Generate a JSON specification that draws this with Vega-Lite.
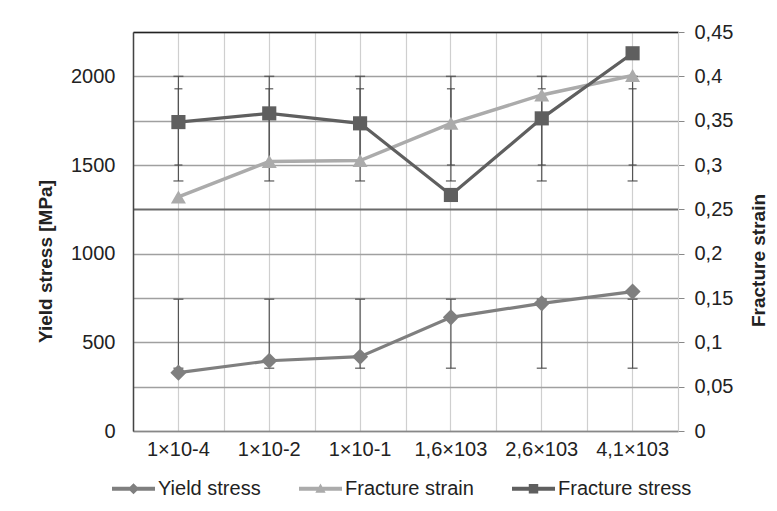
{
  "$schema": "https://vega.github.io/schema/vega-lite/v6.json",
  "autosize": {"type": "none"},
  "width": 545,
  "height": 399,
  "padding": {"left": 133, "top": 32, "right": 99, "bottom": 80},
  "background": "white",
  "config": {
    "font": "Liberation Sans",
    "view": {"stroke": "#cccccc", "strokeWidth": 1},
    "axis": {"labelFont": "Liberation Sans", "titleFont": "Liberation Sans", "labelColor": "#222222", "titleColor": "#222222"}
  },
  "data": {
    "values": [
      {"rate": "1×10-4", "series": "Yield stress", "value": 329, "lo": 354, "hi": 743},
      {"rate": "1×10-2", "series": "Yield stress", "value": 396, "lo": 354, "hi": 743},
      {"rate": "1×10-1", "series": "Yield stress", "value": 419, "lo": 354, "hi": 743},
      {"rate": "1,6×103", "series": "Yield stress", "value": 641, "lo": 354, "hi": 743},
      {"rate": "2,6×103", "series": "Yield stress", "value": 720, "lo": 354, "hi": 743},
      {"rate": "4,1×103", "series": "Yield stress", "value": 786, "lo": 354, "hi": 743},
      {"rate": "1×10-4", "series": "Fracture strain", "value": 0.264, "lo": 0.300, "hi": 0.386},
      {"rate": "1×10-2", "series": "Fracture strain", "value": 0.304, "lo": 0.300, "hi": 0.386},
      {"rate": "1×10-1", "series": "Fracture strain", "value": 0.305, "lo": 0.300, "hi": 0.386},
      {"rate": "1,6×103", "series": "Fracture strain", "value": 0.347, "lo": 0.300, "hi": 0.386},
      {"rate": "2,6×103", "series": "Fracture strain", "value": 0.379, "lo": 0.300, "hi": 0.386},
      {"rate": "4,1×103", "series": "Fracture strain", "value": 0.401, "lo": 0.300, "hi": 0.386},
      {"rate": "1×10-4", "series": "Fracture stress", "value": 1742, "lo": 1410, "hi": 2000},
      {"rate": "1×10-2", "series": "Fracture stress", "value": 1791, "lo": 1410, "hi": 2000},
      {"rate": "1×10-1", "series": "Fracture stress", "value": 1735, "lo": 1410, "hi": 2000},
      {"rate": "1,6×103", "series": "Fracture stress", "value": 1331, "lo": 1410, "hi": 2000},
      {"rate": "2,6×103", "series": "Fracture stress", "value": 1763, "lo": 1410, "hi": 2000},
      {"rate": "4,1×103", "series": "Fracture stress", "value": 2130, "lo": 1410, "hi": 2000}
    ]
  },
  "encoding": {
    "x": {
      "field": "rate", "type": "nominal",
      "sort": ["1×10-4", "1×10-2", "1×10-1", "1,6×103", "2,6×103", "4,1×103"],
      "scale": {"type": "band", "paddingInner": 0, "paddingOuter": 0}
    }
  },
  "resolve": {"scale": {"y": "independent"}, "axis": {"x": "independent", "y": "independent"}},
  "layer": [
    {
      "transform": [{"filter": "datum.series !== 'Fracture strain'"}],
      "encoding": {
        "x": {
          "field": "rate", "type": "nominal",
          "sort": ["1×10-4", "1×10-2", "1×10-1", "1,6×103", "2,6×103", "4,1×103"],
          "scale": {"type": "band", "paddingInner": 0, "paddingOuter": 0},
          "axis": {"orient": "bottom", "title": null, "labelAngle": 0, "labelFontSize": 20, "labelPadding": 8, "ticks": false, "tickSize": 0, "domainColor": "#888888", "domainWidth": 1.5, "grid": true, "bandPosition": 0.5, "gridColor": "#cfcfcf", "gridWidth": 1.2}
        }
      },
      "layer": [
        {
          "mark": {"type": "rule", "color": "#555555", "strokeWidth": 1.2},
          "encoding": {
            "y": {"field": "lo", "type": "quantitative", "scale": {"domain": [0, 2250], "nice": false, "zero": true},
              "axis": {"orient": "left", "title": "Yield stress [MPa]", "titleFontSize": 19, "titleFontWeight": "bold", "titlePadding": 15, "titleY": 229,
                "values": [0, 250, 500, 750, 1000, 1250, 1500, 1750, 2000, 2250],
                "labelExpr": "datum.value % 500 == 0 ? format(datum.value, 'd') : ''",
                "labelFontSize": 20, "labelPadding": 18, "ticks": false, "tickSize": 0,
                "domainColor": "#444444", "domainWidth": 1.5,
                "grid": true, "gridColor": {"condition": {"test": "datum.value == 1250", "value": "#6a6a6a"}, "value": "#a0a0a0"},
                "gridWidth": {"condition": {"test": "datum.value == 1250", "value": 2}, "value": 1.3}}},
            "y2": {"field": "hi"}
          }
        },
        {
          "mark": {"type": "tick", "color": "#444444", "thickness": 1.5, "size": 10},
          "encoding": {"y": {"field": "lo", "type": "quantitative"}}
        },
        {
          "mark": {"type": "tick", "color": "#444444", "thickness": 1.5, "size": 10},
          "encoding": {"y": {"field": "hi", "type": "quantitative"}}
        }
      ]
    },
    {
      "transform": [{"filter": "datum.series === 'Fracture strain'"}],
      "encoding": {
        "x": {
          "field": "rate", "type": "nominal",
          "sort": ["1×10-4", "1×10-2", "1×10-1", "1,6×103", "2,6×103", "4,1×103"],
          "scale": {"type": "band", "paddingInner": 0, "paddingOuter": 0},
          "axis": {"orient": "top", "title": null, "labels": false, "ticks": false, "tickSize": 0, "domainColor": "#222222", "domainWidth": 1.5, "grid": true, "tickBand": "extent", "gridColor": "#cfcfcf", "gridWidth": 1.2}
        }
      },
      "layer": [
        {
          "mark": {"type": "rule", "color": "#555555", "strokeWidth": 1.2},
          "encoding": {
            "y": {"field": "lo", "type": "quantitative", "scale": {"domain": [0, 0.45], "nice": false, "zero": true}, "axis": null},
            "y2": {"field": "hi"}
          }
        },
        {
          "mark": {"type": "tick", "color": "#444444", "thickness": 1.5, "size": 8},
          "encoding": {"y": {"field": "lo", "type": "quantitative"}}
        },
        {
          "mark": {"type": "tick", "color": "#444444", "thickness": 1.5, "size": 8},
          "encoding": {"y": {"field": "hi", "type": "quantitative"}}
        }
      ]
    },
    {
      "transform": [{"filter": "datum.series === 'Fracture strain'"}],
      "encoding": {
        "x": {
          "field": "rate", "type": "nominal",
          "sort": ["1×10-4", "1×10-2", "1×10-1", "1,6×103", "2,6×103", "4,1×103"],
          "scale": {"type": "band", "paddingInner": 0, "paddingOuter": 0},
          "axis": null
        },
        "y": {"field": "value", "type": "quantitative", "scale": {"domain": [0, 0.45], "nice": false, "zero": true},
          "axis": {"orient": "right", "title": "Fracture strain", "titleAngle": -90, "titleFontSize": 19, "titleFontWeight": "bold", "titlePadding": 36, "titleY": 228,
            "values": [0, 0.05, 0.1, 0.15, 0.2, 0.25, 0.3, 0.35, 0.4, 0.45],
            "labelExpr": "replace(format(datum.value, '.2~f'), '.', ',')",
            "labelFontSize": 20, "labelPadding": 10, "ticks": true, "tickSize": 6, "tickColor": "#888888",
            "domainColor": "#cccccc", "grid": false}},
        "color": {"field": "series", "type": "nominal",
          "scale": {"domain": ["Yield stress", "Fracture strain", "Fracture stress"], "range": ["#7f7f7f", "#ababab", "#5f5f5f"]},
          "legend": {
            "orient": "none", "legendX": -21, "legendY": 435, "direction": "horizontal", "columns": 3, "title": null,
            "labelFontSize": 20, "labelColor": "#222222", "labelFont": "Liberation Sans", "symbolSize": 1849, "labelOffset": 3, "columnPadding": 38,
            "encode": {"symbols": {"update": {
              "shape": {"signal": "datum.value === 'Yield stress' ? 'M-1,-0.09H1V0.09H-1Z M-0.26,0L0,-0.26L0.26,0L0,0.26Z' : datum.value === 'Fracture strain' ? 'M-1,-0.09H1V0.09H-1Z M-0.24,0.19L0,-0.24L0.24,0.19Z' : 'M-1,-0.09H1V0.09H-1Z M-0.22,-0.22H0.22V0.22H-0.22Z'"},
              "fill": {"signal": "scale('color', datum.value)"},
              "stroke": {"value": "transparent"},
              "strokeWidth": {"value": 0},
              "opacity": {"value": 1}
            }}}
          }
        }
      },
      "layer": [
        {"mark": {"type": "line", "strokeWidth": 3.5}},
        {"mark": {"type": "point", "shape": "triangle-up", "filled": true, "opacity": 1, "size": 225}}
      ]
    },
    {
      "transform": [{"filter": "datum.series !== 'Fracture strain'"}],
      "encoding": {
        "x": {
          "field": "rate", "type": "nominal",
          "sort": ["1×10-4", "1×10-2", "1×10-1", "1,6×103", "2,6×103", "4,1×103"],
          "scale": {"type": "band", "paddingInner": 0, "paddingOuter": 0},
          "axis": null
        },
        "y": {"field": "value", "type": "quantitative", "scale": {"domain": [0, 2250], "nice": false, "zero": true}, "axis": null},
        "color": {"field": "series", "type": "nominal"}
      },
      "layer": [
        {"mark": {"type": "line", "strokeWidth": 3.2}},
        {"transform": [{"filter": "datum.series === 'Yield stress'"}], "mark": {"type": "point", "shape": "diamond", "filled": true, "opacity": 1, "size": 260}},
        {"transform": [{"filter": "datum.series === 'Fracture stress'"}], "mark": {"type": "point", "shape": "square", "filled": true, "opacity": 1, "size": 200}}
      ]
    }
  ]
}
